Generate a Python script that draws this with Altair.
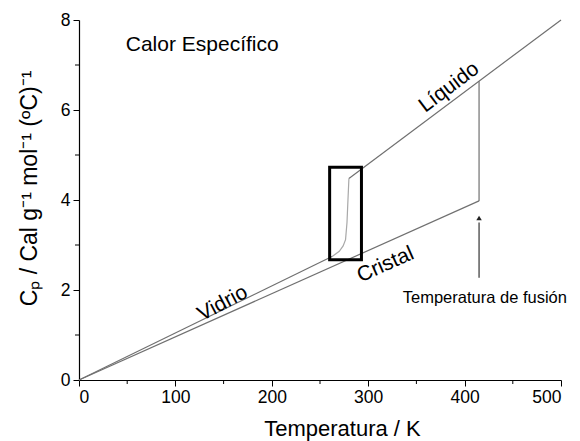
import altair as alt
import pandas as pd

# --- data ---
liq_x = [280, 500]
liq_y = [4.48, 8.0]
cry_x = [0, 415]
cry_y = [0, 3.98]
gla_x = [0, 263]
gla_y = [0, 2.75]
tr_x = [263, 270, 274, 276.5, 278, 279, 280]
tr_y = [2.75, 2.86, 2.98, 3.12, 3.5, 4.0, 4.48]
melt_x = [415, 415]
melt_y = [3.98, 6.64]

box_x = [260]
box_x2 = [293]
box_y = [2.67]
box_y2 = [4.73]

arrow_x = [415]
arrow_y = [2.27]
arrow_y2 = [3.5]
arrow_tip = [3.6]

x_minor = [50, 150, 250, 350, 450]
y_minor = [1, 3, 5, 7]

labels = ["Líquido", "Vidrio", "Cristal"]
label_x = [384, 149, 318]
label_y = [6.5, 1.7, 2.56]
label_angle = [323, 332, 336]

rows = []
for name, xs, ys in [("liq", liq_x, liq_y), ("cry", cry_x, cry_y), ("gla", gla_x, gla_y),
                     ("tr", tr_x, tr_y), ("melt", melt_x, melt_y)]:
    for i, (a, b) in enumerate(zip(xs, ys)):
        rows.append({"s": name, "x": a, "y": b, "o": i})
lines_df = pd.DataFrame(rows)

xs = alt.Scale(domain=[0, 500], nice=False)
ys = alt.Scale(domain=[0, 8], nice=False)

FONT = "Liberation Sans"

base_x = alt.X("x:Q", scale=xs, axis=alt.Axis(
    title="Temperatura / K", values=[0, 100, 200, 300, 400, 500], format="d",
    titleX=263, titleY=55, titleBaseline="alphabetic", titleFontSize=22,
    titleFontWeight="normal", labelPadding=2))
base_y = alt.Y("y:Q", scale=ys, axis=alt.Axis(
    title="Cₚ / Cal g⁻¹ mol⁻¹ (ºC)⁻¹", values=[0, 2, 4, 6, 8], format="d",
    titleX=-50, titleY=168, titleAngle=270, titleBaseline="middle", titleAlign="center",
    titleFontSize=23, titleFontWeight="normal", labelPadding=3))

lines = alt.Chart(lines_df).mark_line(strokeWidth=1.2).encode(
    x=base_x, y=base_y, detail="s:N", order="o:Q",
    color=alt.Color("s:N", legend=None, scale=alt.Scale(
        domain=["liq", "cry", "gla", "tr", "melt"],
        range=["#707070", "#707070", "#707070", "#a8a8a8", "#707070"])))

box = alt.Chart(pd.DataFrame({"x": box_x, "x2": box_x2, "y": box_y, "y2": box_y2})).mark_rect(
    fill=None, stroke="black", strokeWidth=3).encode(
    x=alt.X("x:Q", scale=xs), x2="x2:Q", y=alt.Y("y:Q", scale=ys), y2="y2:Q")

arrow_df = pd.DataFrame({"x": arrow_x, "y": arrow_y, "y2": arrow_y2, "t": arrow_tip})
arrow = alt.Chart(arrow_df).mark_rule(color="#333333", strokeWidth=1.2).encode(
    x=alt.X("x:Q", scale=xs), y=alt.Y("y:Q", scale=ys), y2="y2:Q")
tip = alt.Chart(arrow_df).mark_point(shape="triangle-up", filled=True, color="#222222",
                                     size=30, opacity=1).encode(
    x=alt.X("x:Q", scale=xs), y=alt.Y("t:Q", scale=ys))

xm = alt.Chart(pd.DataFrame({"x": x_minor})).mark_rule(color="black").encode(
    x=alt.X("x:Q", scale=xs), y=alt.value(360), y2=alt.value(364))
ym = alt.Chart(pd.DataFrame({"y": y_minor})).mark_rule(color="black").encode(
    y=alt.Y("y:Q", scale=ys), x=alt.value(0), x2=alt.value(-4))

lab_df = pd.DataFrame({"t": labels, "x": label_x, "y": label_y, "a": label_angle})
lab = alt.Chart(lab_df).mark_text(font=FONT, fontSize=21, color="black",
                                  align="center", baseline="middle").encode(
    x=alt.X("x:Q", scale=xs), y=alt.Y("y:Q", scale=ys), text="t:N",
    angle=alt.Angle("a:Q", scale=None))

title_txt = alt.Chart(pd.DataFrame({"t": ["Calor Específico"], "x": [48.5], "y": [7.44]})).mark_text(
    font=FONT, fontSize=21, color="black", align="left", baseline="middle").encode(
    x=alt.X("x:Q", scale=xs), y=alt.Y("y:Q", scale=ys), text="t:N")

fus_txt = alt.Chart(pd.DataFrame({"t": ["Temperatura de fusión"], "x": [421], "y": [1.82]})).mark_text(
    font=FONT, fontSize=16.5, color="black", align="center", baseline="middle").encode(
    x=alt.X("x:Q", scale=xs), y=alt.Y("y:Q", scale=ys), text="t:N")

chart = alt.layer(lines, box, arrow, tip, xm, ym, lab, title_txt, fus_txt).properties(
    width=482, height=360,
    padding={"left": 71, "top": 12, "right": 10, "bottom": 61},
    autosize="none",
).configure_view(stroke=None).configure_axis(
    grid=False, domainColor="black", tickColor="black", tickSize=6,
    labelFont=FONT, titleFont=FONT, labelFontSize=17.5, labelColor="black",
    titleColor="black", domainWidth=1.2,
)

chart.save("out.html", embed_options={"renderer": "svg", "actions": False})
